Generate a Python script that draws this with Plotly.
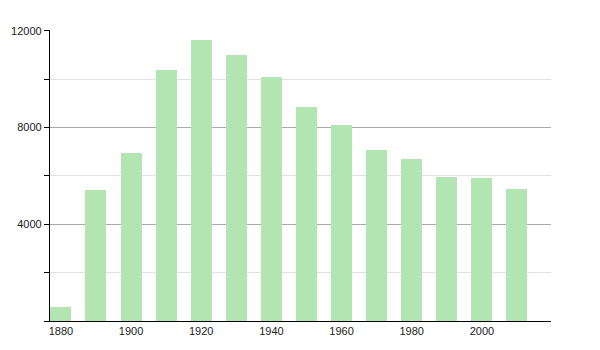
import plotly.graph_objects as go

years = [1880, 1890, 1900, 1910, 1920, 1930, 1940, 1950, 1960, 1970, 1980, 1990, 2000, 2010]
population = [560, 5415, 6940, 10365, 11620, 11010, 10075, 8875, 8090, 7065, 6695, 5965, 5910, 5455]
x_ticks = [1880, 1900, 1920, 1940, 1960, 1980, 2000]
y_ticks = [4000, 8000, 12000]

fig = go.Figure()
fig.add_trace(go.Bar(
    x=years, y=population, width=6,
    marker=dict(color="#b2e5b2", line=dict(width=0)),
    hoverinfo="x+y",
))

tick_font = dict(family="Liberation Sans, Arial, sans-serif", size=11, color="#1a1a1a")

fig.update_layout(
    template="none",
    width=600, height=350,
    margin=dict(l=50, r=49, t=30, b=29),
    paper_bgcolor="white", plot_bgcolor="white",
    font=dict(family="Liberation Sans, Arial, sans-serif", size=11, color="#1a1a1a"),
    showlegend=False,
    bargap=0,
)
fig.update_xaxes(
    range=[1876.9, 2019.7],
    tickvals=x_ticks, ticktext=[str(v) for v in x_ticks],
    tickfont=tick_font,
    showgrid=False, zeroline=False,
    showline=True, linecolor="black", linewidth=1.3,
    ticks="", ticklen=0,
)
fig.update_yaxes(
    range=[0, 12040],
    tickvals=y_ticks, ticktext=[str(v) for v in y_ticks],
    tickfont=tick_font,
    showgrid=True, gridcolor="#aaaaaa", gridwidth=1,
    zeroline=False,
    showline=True, linecolor="black", linewidth=1.3,
    ticks="outside", ticklen=5, tickcolor="black",
    minor=dict(dtick=2000, tick0=0, ticks="outside", ticklen=5, tickcolor="black",
               showgrid=True, gridcolor="#e2e2e2", gridwidth=1),
    layer="below traces",
)

fig.write_html("out.html")
